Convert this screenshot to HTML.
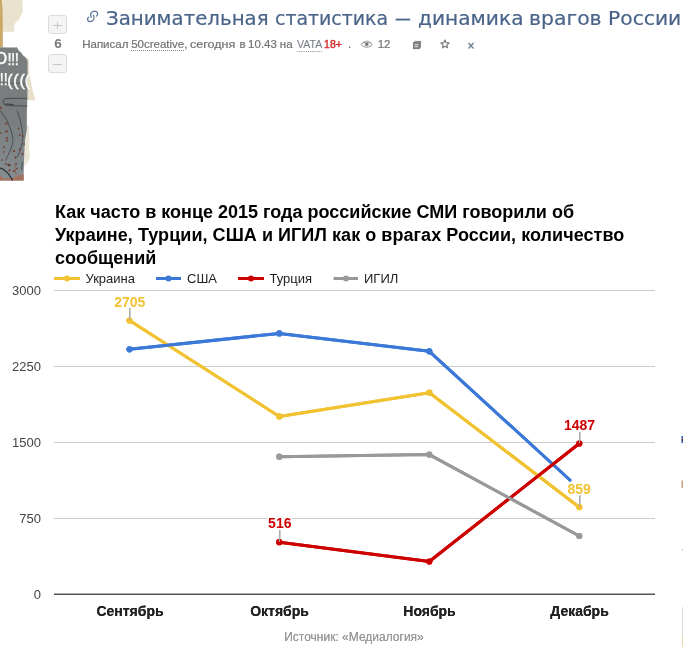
<!DOCTYPE html>
<html lang="ru">
<head>
<meta charset="utf-8">
<title>Занимательная статистика — динамика врагов России</title>
<style>
html,body{margin:0;padding:0;background:#fff;}
body{width:683px;height:647px;overflow:hidden;position:relative;font-family:"Liberation Sans",Arial,sans-serif;}
.abs{position:absolute;white-space:nowrap;}
#title span{position:absolute;top:7px;white-space:nowrap;transform-origin:0 0;font:19.8px/24px "DejaVu Sans",sans-serif;color:#4a6389;-webkit-text-stroke:0.2px #4a6389;}
#meta .m{position:absolute;top:36.6px;white-space:nowrap;transform-origin:0 0;font:11.5px/14px "Liberation Sans",sans-serif;color:#717171;-webkit-text-stroke:0.2px #717171;}
#meta .u{border-bottom:1px dotted #8a8a8a;padding-bottom:0.5px;}
#meta .vata{color:#7f838c;-webkit-text-stroke:0.15px #7f838c;border-bottom:1px dotted #8a8a8a;padding-bottom:0.5px;}
#meta .age{color:#d42a2a;-webkit-text-stroke:0.4px #d42a2a;}
.vbtn{position:absolute;left:48px;width:17px;height:17px;border:1px solid #dcdcdc;border-radius:3px;background:#f4f4f4;}
#vcount{left:48.5px;width:19px;text-align:center;top:35.5px;font:bold 13.5px/16px "Liberation Sans",sans-serif;color:#77797c;}
#ctitle{left:55px;top:201px;font:bold 18px/22.8px "Liberation Sans",sans-serif;color:#000;}
</style>
</head>
<body>
<!-- left torn image -->
<svg class="abs" style="left:0;top:0" width="40" height="185" viewBox="0 0 40 185">
  <defs>
    <linearGradient id="gg" x1="0" y1="47" x2="0" y2="181" gradientUnits="userSpaceOnUse">
      <stop offset="0" stop-color="#7b7f7f"/><stop offset="0.5" stop-color="#787c7d"/><stop offset="0.8" stop-color="#80878a"/><stop offset="1" stop-color="#858d90"/>
    </linearGradient>
  </defs>
  <polygon points="2.5,0 22.7,0 22.7,12 20.5,16.5 18.5,20.5 15.5,22.5 14.2,25.5 14.2,31.7 2.5,31.7" fill="#e9e2cf"/>
  <path d="M0,0 L2,0 C2.8,6 2.9,20 2.8,47 L0,47 Z" fill="#caa868"/>
  <polygon points="26.5,58.3 28.6,58.5 29.5,75 32.5,90 35.6,100.3 27,100" fill="#e8dfc8"/>
  <polygon points="24.5,124.8 28.5,124.8 29.3,135 29.2,150 30,157 27.5,163 23.8,166.5" fill="#ece6d6"/>
  <polygon points="0,47.3 8,47.5 15,47.4 16.5,46.9 17.5,48.5 19,50.8 21,52.5 23.2,55.6 25.5,57.2 26.7,58.9 27.6,61 27.5,95 26.9,110 26.8,130 25,140 24,160 23.8,170 23.6,180.5 0,180.5" fill="url(#gg)"/>
  <path d="M0,175.8 C1.5,176 2.2,177.6 3.5,178.4 L12,178.6 C14,178.2 15.5,176.5 16.5,174.5 L17.5,177.5 L18.8,173.5 L20.2,177 L21.5,174 L23.7,175 L23.7,180.5 L0,180.5 Z" fill="#a5725f"/>
  <line x1="0" y1="83.3" x2="27" y2="83.3" stroke="#5e6264" stroke-width="1"/>
  <g fill="#fbfbfb" font-family="Liberation Sans, sans-serif" stroke="#fbfbfb" stroke-width="0.25">
    <text x="-5.3" y="64.4" font-size="16.5" transform="scale(0.95,1)" stroke-width="0.5">О</text>
    <text y="64.6" font-size="16.7" x="7.3 10.8 14.4">!!!</text>
    <text y="85.2" font-size="16" x="-0.6 3.5">!!</text>
    <text y="85.6" font-size="16" x="7.3 13.2 19.4 24.8" stroke-width="0.45">((((</text>
  </g>
  <g fill="none" stroke="#3c4144" stroke-width="0.8" stroke-linecap="round">
    <path d="M27,98.3 L6,98.5 C3.2,98.8 2.6,101.5 3.6,103.2 C4.4,105.4 8,105.8 12,105.8 L27,106"/>
    <path d="M4.8,104.3 C8,104 11,104.2 13.5,104.8" stroke-width="1.1"/>
    <path d="M0,110.6 C6,117 11,127 13,139.5 C12.6,147 9,153 5.6,160.2"/>
    <path d="M17.4,111 C20.5,119 22.8,130 22.8,138 C22,147 19,153 17.4,157"/>
    <path d="M22.4,162 L21.5,170"/>
  </g>
  <path d="M0,168 C5,169.5 9,173.5 12.6,180.3" fill="none" stroke="#1e2224" stroke-width="1.1"/>
  <ellipse cx="9" cy="165" rx="1.6" ry="1.2" fill="#5a3a33"/>
  <g fill="#744a3f">
    <circle cx="0.6" cy="108" r="1.15"/><circle cx="6.3" cy="123.6" r="1.25"/><circle cx="6.6" cy="131.4" r="1.35"/><circle cx="6.9" cy="138.2" r="1.25"/>
    <circle cx="0.4" cy="133" r="1.05"/><circle cx="18.5" cy="128.5" r="1.05"/><circle cx="19.8" cy="135" r="1.05"/><circle cx="23" cy="136" r="1.05"/>
    <circle cx="7" cy="141" r="1.05"/><circle cx="4" cy="147" r="1.05"/><circle cx="14" cy="151" r="1.25"/><circle cx="15.5" cy="157.5" r="1.15"/>
    <circle cx="20" cy="149.5" r="1.25"/><circle cx="22.5" cy="154" r="1.15"/><circle cx="6" cy="164" r="1.05"/><circle cx="16" cy="164" r="1.15"/>
    <circle cx="9.5" cy="170.5" r="1.15"/><circle cx="17" cy="168.5" r="1.05"/><circle cx="14" cy="171" r="1.05"/><circle cx="2" cy="160" r="0.95"/>
    <circle cx="24" cy="144" r="0.95"/><circle cx="3.5" cy="152" r="0.95"/>
  </g>
  <path d="M14.5,165 C15,168 15.5,171 16,174" stroke="#8a5c50" stroke-width="0.9" fill="none"/>
</svg>

<!-- vote -->
<div class="vbtn" style="top:15px"></div>
<div class="abs" style="left:53px;top:24.6px;width:9px;height:1px;background:#c3c8d0"></div>
<div class="abs" style="left:57px;top:21.5px;width:1px;height:7px;background:#c3c8d0"></div>
<div class="abs" id="vcount">6</div>
<div class="vbtn" style="top:54px"></div>
<div class="abs" style="left:53px;top:63.5px;width:9px;height:1px;background:#c3c8d0"></div>

<!-- link icon -->
<svg class="abs" style="left:85px;top:9px" width="16" height="15" viewBox="0 0 16 15">
  <g fill="none" stroke="#5a7398" stroke-width="1.25" stroke-linecap="round">
    <path d="M6.3,8.4 C5.2,6.5 5.5,4.2 7.5,2.8 C9.5,1.6 11.8,2.2 12.6,4.2 C13,5.3 12.3,6.3 11.5,7"/>
    <path d="M8.4,6.3 C9.6,8 9.2,10.5 7.3,11.9 C5.4,13 3,12.6 2.6,10.8 C2.4,9.8 2.8,8.9 3.5,8.2"/>
  </g>
</svg>

<div id="title"><span style="left:106px;">Занимательная</span> <span style="left:274.6px;transform:scaleX(0.957);">статистика</span> <span style="left:395.1px;transform:scaleX(0.8);">—</span> <span style="left:417.6px;transform:scaleX(1.02);">динамика</span> <span style="left:529.1px;transform:scaleX(1.03);">врагов</span> <span style="left:607.7px;transform:scaleX(1.025);">России</span></div>
<div id="meta"><span class="m" style="left:82.2px;">Написал</span> <span class="m" style="left:131.2px;"><span class="u">50creative</span>,</span> <span class="m" style="left:190.3px;transform:scaleX(1.09);">сегодня</span> <span class="m" style="left:239.4px;">в</span> <span class="m" style="left:248.1px;">10.43</span> <span class="m" style="left:279.8px;">на</span> <span class="m vata" style="left:296.6px;transform:scaleX(0.92);">VATA</span> <span class="m age" style="left:324.2px;transform:scaleX(0.92);">18+</span> <span class="m" style="left:347.9px;">.</span> <span class="m" style="left:377.7px;">12</span></div>

<!-- eye icon -->
<svg class="abs" style="left:360px;top:40px" width="14" height="9" viewBox="0 0 14 9">
  <path d="M1.2,4.6 C3.5,1.2 9.9,1.2 12.2,4.6 C9.9,8 3.5,8 1.2,4.6 Z" fill="none" stroke="#8f8f8f" stroke-width="1"/>
  <path d="M2,3.2 C4.8,0.4 8.6,0.4 11.4,3.2" fill="none" stroke="#a0a0a0" stroke-width="0.8"/>
  <circle cx="6.7" cy="4.2" r="1.8" fill="#777"/>
</svg>
<!-- doc icon -->
<svg class="abs" style="left:412px;top:40px" width="10" height="10" viewBox="0 0 10 10">
  <rect x="2.4" y="0.9" width="6.7" height="6.8" fill="#8c8c8c"/>
  <rect x="1" y="2.2" width="6.9" height="6.9" fill="#777"/>
  <rect x="1.9" y="3.1" width="5.1" height="5.1" fill="#8a8a8a"/>
  <g stroke="#e2e2e2" stroke-width="0.9"><line x1="2.6" y1="4.6" x2="6.2" y2="4.6"/><line x1="2.6" y1="6.6" x2="6.2" y2="6.6"/></g>
</svg>
<!-- star -->
<svg class="abs" style="left:439.6px;top:39.2px" width="10" height="10" viewBox="0 0 10 10">
  <polygon points="5.00,1.00 6.18,3.68 9.09,3.97 6.90,5.92 7.53,8.78 5.00,7.30 2.47,8.78 3.10,5.92 0.91,3.97 3.82,3.68" fill="none" stroke="#7a7a7a" stroke-width="1.2" stroke-linejoin="round"/>
</svg>
<div class="abs" style="left:467.5px;top:39px;font:bold 12px/14px 'Liberation Sans',sans-serif;color:#6f7f96">×</div>

<div class="abs" id="ctitle">Как часто в конце 2015 года российские СМИ говорили об<br><span style="letter-spacing:0.05px">Украине, Турции, США и ИГИЛ как о врагах России, количество</span><br>сообщений</div>

<!-- chart -->
<svg class="abs" style="left:0;top:0" width="683" height="647" viewBox="0 0 683 647" font-family="Liberation Sans, Arial, sans-serif">
  <!-- legend -->
  <g stroke-width="3">
    <line x1="54" y1="278.5" x2="80" y2="278.5" stroke="#f1c232"/>
    <line x1="156" y1="278.5" x2="181" y2="278.5" stroke="#3c78d8"/>
    <line x1="238" y1="278.5" x2="264" y2="278.5" stroke="#cc0000"/>
    <line x1="333.5" y1="278.5" x2="358" y2="278.5" stroke="#999999"/>
  </g>
  <circle cx="67" cy="278.5" r="3" fill="#f1c232"/>
  <circle cx="168.5" cy="278.5" r="3" fill="#3c78d8"/>
  <circle cx="251" cy="278.5" r="3" fill="#cc0000"/>
  <circle cx="346" cy="278.5" r="3" fill="#999999"/>
  <g font-size="13" fill="#222">
    <text x="85.5" y="283">Украина</text>
    <text x="187" y="283">США</text>
    <text x="269.5" y="283">Турция</text>
    <text x="364" y="283">ИГИЛ</text>
  </g>
  <!-- grid -->
  <g stroke="#cccccc" stroke-width="1">
    <line x1="54" y1="290.5" x2="655" y2="290.5"/>
    <line x1="54" y1="366.5" x2="655" y2="366.5"/>
    <line x1="54" y1="442.5" x2="655" y2="442.5"/>
    <line x1="54" y1="518.5" x2="655" y2="518.5"/>
  </g>
  <line x1="54" y1="594.2" x2="655" y2="594.2" stroke="#555" stroke-width="1.4"/>
  <g font-size="13" fill="#444" text-anchor="end">
    <text x="41" y="295">3000</text>
    <text x="41" y="371">2250</text>
    <text x="41" y="447">1500</text>
    <text x="41" y="523">750</text>
    <text x="41" y="599">0</text>
  </g>
  <g font-size="14" font-weight="bold" fill="#222" text-anchor="middle">
    <text x="130" y="616">Сентябрь</text>
    <text x="279.5" y="616">Октябрь</text>
    <text x="429.5" y="616">Ноябрь</text>
    <text x="579.5" y="616">Декабрь</text>
  </g>
  <text x="354" y="640.7" font-size="12" fill="#999" text-anchor="middle">Источник: «Медиалогия»</text>

  <!-- annotation stems -->
  <g stroke="#ababab" stroke-width="1.2">
    <line x1="130" y1="308" x2="130" y2="319"/>
    <line x1="280" y1="530" x2="280" y2="541"/>
    <line x1="580" y1="432" x2="580" y2="442"/>
    <line x1="580" y1="495" x2="580" y2="506"/>
  </g>
  <!-- series -->
  <g fill="none" stroke-width="3" stroke-linejoin="round">
    <polyline points="129.5,320.5 279.3,416.4 429.4,392.7 579.3,507.2" stroke="#f1c232"/>
    <polyline points="129.5,349.3 279.3,333.4 429.3,351.3 571,481" stroke="#3c78d8"/>
    <polyline points="279.3,542.2 429.3,561.5 579.3,443.5" stroke="#cc0000"/>
    <polyline points="279.3,456.7 429.3,454.6 579.3,536" stroke="#999999"/>
  </g>
  <g>
    <circle cx="129.5" cy="320.5" r="3.1" fill="#f1c232"/><circle cx="279.3" cy="416.4" r="3.1" fill="#f1c232"/><circle cx="429.4" cy="392.7" r="3.1" fill="#f1c232"/><circle cx="579.3" cy="507.2" r="3.1" fill="#f1c232"/>
    <circle cx="129.5" cy="349.3" r="3.1" fill="#3c78d8"/><circle cx="279.3" cy="333.4" r="3.1" fill="#3c78d8"/><circle cx="429.3" cy="351.3" r="3.1" fill="#3c78d8"/>
    <circle cx="279.3" cy="542.2" r="3.1" fill="#cc0000"/><circle cx="429.3" cy="561.5" r="3.1" fill="#cc0000"/><circle cx="579.3" cy="443.5" r="3.1" fill="#cc0000"/>
    <circle cx="279.3" cy="456.7" r="3.1" fill="#999999"/><circle cx="429.3" cy="454.6" r="3.1" fill="#999999"/><circle cx="579.3" cy="536" r="3.1" fill="#999999"/>
  </g>
  <g font-size="14" font-weight="bold" fill="#222" text-anchor="middle">
    <text x="130" y="616">Сентябрь</text>
    <text x="279.5" y="616">Октябрь</text>
    <text x="429.5" y="616">Ноябрь</text>
    <text x="579.5" y="616">Декабрь</text>
  </g>
  <text x="354" y="640.7" font-size="12" fill="#999" text-anchor="middle">Источник: «Медиалогия»</text>

  <!-- series -->
  <g fill="none" stroke-width="3" stroke-linejoin="round">
    <polyline points="129.5,320.5 279.3,416.4 429.4,392.7 579.3,507.2" stroke="#f1c232"/>
    <polyline points="129.5,349.3 279.3,333.4 429.3,351.3 571,481" stroke="#3c78d8"/>
    <polyline points="279.3,542.2 429.3,561.5 579.3,443.5" stroke="#cc0000"/>
    <polyline points="279.3,456.7 429.3,454.6 579.3,536" stroke="#999999"/>
  </g>
  <g>
    <circle cx="129.5" cy="320.5" r="3.1" fill="#f1c232"/><circle cx="279.3" cy="416.4" r="3.1" fill="#f1c232"/><circle cx="429.4" cy="392.7" r="3.1" fill="#f1c232"/><circle cx="579.3" cy="507.2" r="3.1" fill="#f1c232"/>
    <circle cx="129.5" cy="349.3" r="3.1" fill="#3c78d8"/><circle cx="279.3" cy="333.4" r="3.1" fill="#3c78d8"/><circle cx="429.3" cy="351.3" r="3.1" fill="#3c78d8"/>
    <circle cx="279.3" cy="542.2" r="3.1" fill="#cc0000"/><circle cx="429.3" cy="561.5" r="3.1" fill="#cc0000"/><circle cx="579.3" cy="443.5" r="3.1" fill="#cc0000"/>
    <circle cx="279.3" cy="456.7" r="3.1" fill="#999999"/><circle cx="429.3" cy="454.6" r="3.1" fill="#999999"/><circle cx="579.3" cy="536" r="3.1" fill="#999999"/>
  </g>
  <!-- annotations -->
  <g stroke="#aaa" stroke-width="1">
    <line x1="129.5" y1="308" x2="129.5" y2="320"/>
    <line x1="279.5" y1="530" x2="279.5" y2="542"/>
    <line x1="579.5" y1="432" x2="579.5" y2="443"/>
    <line x1="579.5" y1="495" x2="579.5" y2="507"/>
  </g>
  <g font-size="14" font-weight="bold" text-anchor="middle" stroke="#fff" stroke-width="3" paint-order="stroke" stroke-linejoin="round">
    <text x="129.8" y="307" fill="#f1c232">2705</text>
    <text x="279.8" y="528" fill="#cc0000">516</text>
    <text x="579.6" y="429.6" fill="#cc0000">1487</text>
    <text x="579.2" y="493.5" fill="#f1c232">859</text>
  </g>
  <!-- right edge specks -->
  <rect x="681.5" y="436" width="1.5" height="2.5" fill="#2a5cc8"/>
  <rect x="681.5" y="438.5" width="1.5" height="2.5" fill="#4a2040"/>
  <rect x="681.5" y="441" width="1.5" height="2" fill="#2a5cc8"/>
  <rect x="681.5" y="480.5" width="1.5" height="7.5" fill="#c4a484"/>
  <rect x="682" y="549.5" width="1" height="1" fill="#999"/>
  <rect x="682" y="607" width="1" height="29" fill="#dcdcdc"/>
  <rect x="682" y="636" width="1" height="11" fill="#ecd8b0"/>
</svg>
</body>
</html>
